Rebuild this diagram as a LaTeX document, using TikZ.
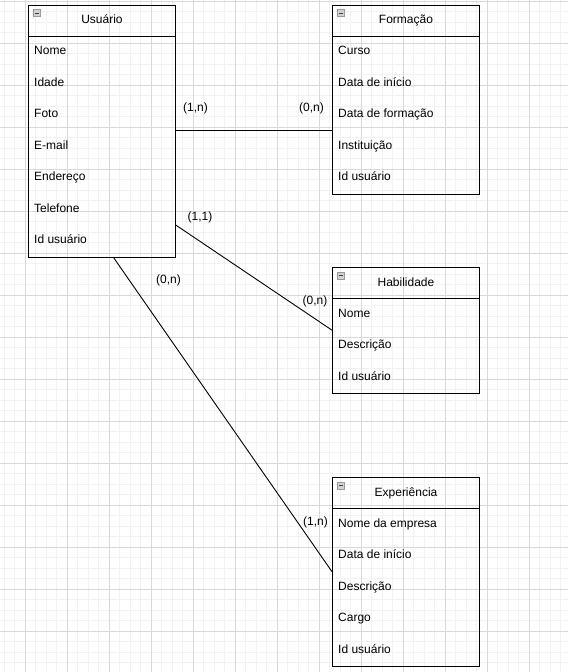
\documentclass[tikz,border=0pt]{standalone}
\usepackage{fontspec}
\setmainfont{Liberation Sans}
\usetikzlibrary{positioning,calc}
\tikzset{
    entity/.style={
        draw,
        rectangle,
        line width=1pt,
        anchor=north west,
        minimum width=147pt,
        inner sep=0pt
    },
    title/.style={text height=8.6pt, text depth=2.5pt, font=\fontsize{12}{14}\selectfont},
    attr/.style={
        anchor=west,
        inner sep=0pt,
        text height=8.6pt,
        text depth=2.5pt,
        minimum height=31.5pt,
        font=\fontsize{12}{14}\selectfont
    },
    icon/.style={
        draw=gray!80,
        fill=gray!35,
        minimum size=7pt,
        inner sep=0pt,
        path picture={\draw[black!75, line width=0.8pt]
            ([xshift=1.5pt]path picture bounding box.west) --
            ([xshift=-1.5pt]path picture bounding box.east);}
    },
    rel/.style={draw, line width=0.9pt},
    card/.style={inner sep=0pt, text height=8.6pt, text depth=2.5pt, font=\fontsize{12}{14}\selectfont},
    minorgrid/.style={gray!10, line width=1pt},
    majorgrid/.style={gray!30, line width=1pt}
}

\begin{document}
\begin{tikzpicture}[x=1pt, y=-1pt]
    \useasboundingbox[fill=white] (0,0) rectangle (568,672);

    % Grid
    \foreach \i in {0,...,54} \draw[minorgrid] ({4.3+10.5*\i},0) -- ({4.3+10.5*\i},672);
    \foreach \i in {0,...,63} \draw[minorgrid] (0,{1.3+10.5*\i}) -- (568,{1.3+10.5*\i});
    \foreach \i in {0,...,12} \draw[majorgrid] ({25.3+42*\i},0) -- ({25.3+42*\i},672);
    \foreach \i in {0,...,15} \draw[majorgrid] (0,{1.3+42*\i}) -- (568,{1.3+42*\i});

    % Usuario
    \node[entity, minimum height=252pt] (usuario) at (28,4.5) {};
    \draw[line width=1pt] ($(usuario.north west)+(0,31.5)$) -- ($(usuario.north east)+(0,31.5)$);
    \node[icon] (usr-icon) at ($(usuario.north west)+(8.5,8.5)$) {};
    \node[title] (usr-title) at ($(usuario.north)+(0,16)$) {Usuário};
    \foreach \a [count=\k] in {Nome,Idade,Foto,E-mail,Endereço,Telefone,Id usuário}
        \node[attr] (usr\k) at ($(usuario.north west)+(6,{15.75+31.5*\k})$) {\a};

    % Formacao
    \node[entity, minimum height=189pt] (formacao) at (332,4.5) {};
    \draw[line width=1pt] ($(formacao.north west)+(0,31.5)$) -- ($(formacao.north east)+(0,31.5)$);
    \node[icon] (frm-icon) at ($(formacao.north west)+(8.5,8.5)$) {};
    \node[title] (frm-title) at ($(formacao.north)+(0,16)$) {Formação};
    \foreach \a [count=\k] in {Curso,Data de início,Data de formação,Instituição,Id usuário}
        \node[attr] (frm\k) at ($(formacao.north west)+(6,{15.75+31.5*\k})$) {\a};

    % Habilidade
    \node[entity, minimum height=126pt] (habilidade) at (332,267) {};
    \draw[line width=1pt] ($(habilidade.north west)+(0,31.5)$) -- ($(habilidade.north east)+(0,31.5)$);
    \node[icon] (hab-icon) at ($(habilidade.north west)+(8.5,8.5)$) {};
    \node[title] (hab-title) at ($(habilidade.north)+(0,16)$) {Habilidade};
    \foreach \a [count=\k] in {Nome,Descrição,Id usuário}
        \node[attr] (hab\k) at ($(habilidade.north west)+(6,{15.75+31.5*\k})$) {\a};

    % Experiencia
    \node[entity, minimum height=189pt] (experiencia) at (332,477) {};
    \draw[line width=1pt] ($(experiencia.north west)+(0,31.5)$) -- ($(experiencia.north east)+(0,31.5)$);
    \node[icon] (exp-icon) at ($(experiencia.north west)+(8.5,8.5)$) {};
    \node[title] (exp-title) at ($(experiencia.north)+(0,16)$) {Experiência};
    \foreach \a [count=\k] in {Nome da empresa,Data de início,Descrição,Cargo,Id usuário}
        \node[attr] (exp\k) at ($(experiencia.north west)+(6,{15.75+31.5*\k})$) {\a};

    % Relationships
    \draw[rel] (usuario.east |- usr3.south) -- (formacao.west |- usr3.south);
    \draw[rel] (usuario.east |- usr6.south) -- (habilidade.west |- hab1.south);
    \draw[rel] ($(usuario.south)+(11.5,0)$) -- (experiencia.west |- exp2.south);

    % Cardinalities
    \node[card] (c-usr-frm) at (195.5,108.5) {(1,n)};
    \node[card] (c-frm-usr) at (311.5,108.5) {(0,n)};
    \node[card] (c-usr-hab) at (200,217.5) {(1,1)};
    \node[card] (c-hab-usr) at (315,301.5) {(0,n)};
    \node[card] (c-usr-exp) at (168.5,280.5) {(0,n)};
    \node[card] (c-exp-usr) at (315.5,522.5) {(1,n)};
\end{tikzpicture}
\end{document}
